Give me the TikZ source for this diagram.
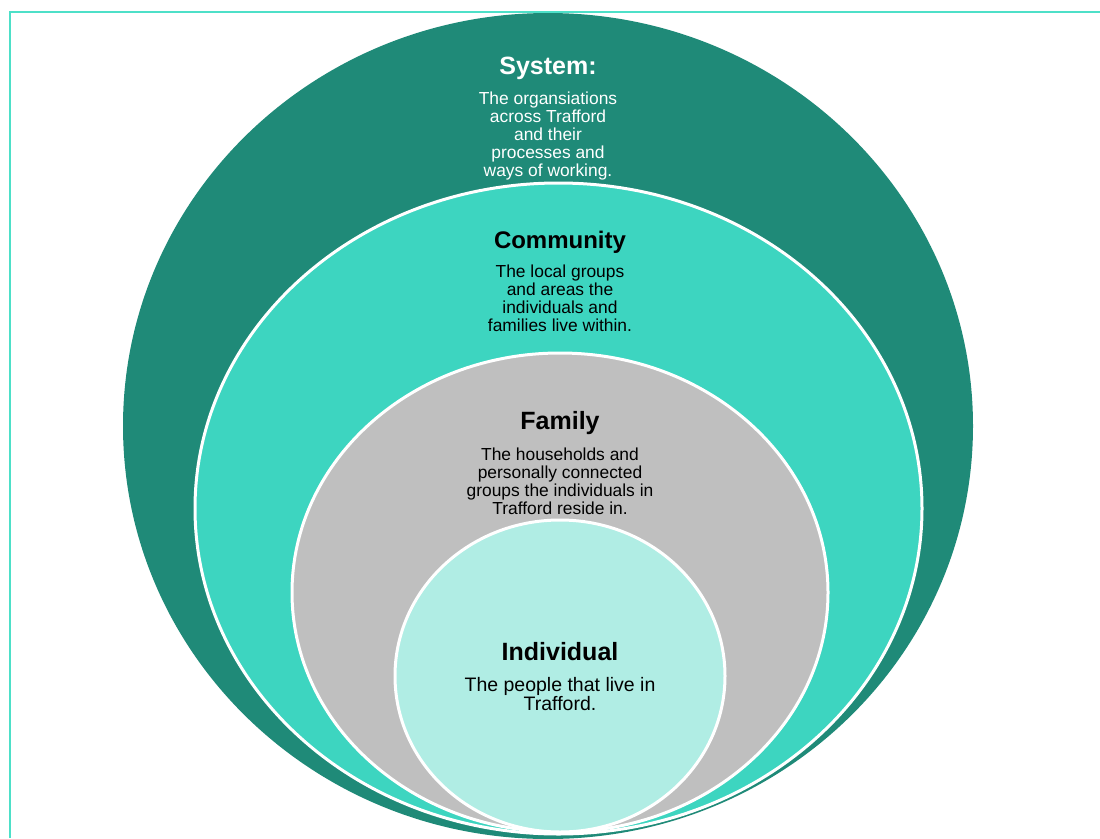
\documentclass[tikz,border=0pt]{standalone}
\usepackage{fontspec}
\setmainfont{Liberation Sans}
\usepackage{tikz}
\usetikzlibrary{positioning}
\usetikzlibrary{shapes.geometric}
\definecolor{frameline}{RGB}{77,224,200}
\definecolor{systemteal}{RGB}{31,138,120}
\definecolor{communityteal}{RGB}{61,213,192}
\definecolor{familygrey}{RGB}{191,191,191}
\definecolor{individualmint}{RGB}{176,237,228}
\begin{document}
\begin{tikzpicture}[x=1pt,y=-1pt,
ring/.style={ellipse,draw=white,line width=3pt,inner sep=0pt},
title/.style={font=\bfseries\fontsize{25}{28}\selectfont,inner sep=0pt},
blurb/.style={font=\fontsize{17.4}{18}\selectfont,align=center,inner sep=0pt}]
\useasboundingbox (0,0) rectangle (1100,838);
\clip (0,0) rectangle (1100,838);
\draw[frameline, line width=2pt] (9.5,838) -- (9.5,12) -- (1100,12);
% nested rings
\node[ring, draw=none, fill=systemteal, minimum width=850, minimum height=826] (system) at (548,426) {};
\node[ring, fill=communityteal, minimum width=727, minimum height=651] (community) at (558.5,508.5) {};
\node[ring, fill=familygrey, minimum width=536, minimum height=479] (family) at (560,592.5) {};
\node[ring, fill=individualmint, minimum width=330, minimum height=312] (individual) at (560,676) {};
% labels
\node[title, text=white] (systitle) at (548,68) {System:};
\node[blurb, text=white, below=12pt of systitle] (sysblurb) {The organsiations\\across Trafford\\and their\\processes and\\ways of working.};
\node[title, font=\bfseries\fontsize{24}{28}\selectfont] (comtitle) at (560,242) {Community};
\node[blurb, below=11pt of comtitle] (comblurb) {The local groups\\and areas the\\individuals and\\families live within.};
\node[title] (famtitle) at (560,423) {Family};
\node[blurb, below=13pt of famtitle] (famblurb) {The households and\\personally connected\\groups the individuals in\\Trafford reside in.};
\node[title] (indtitle) at (560,652) {Individual};
\node[blurb, font=\fontsize{19.5}{19}\selectfont, below=16pt of indtitle] (indblurb) {The people that live in\\Trafford.};
\end{tikzpicture}
\end{document}
